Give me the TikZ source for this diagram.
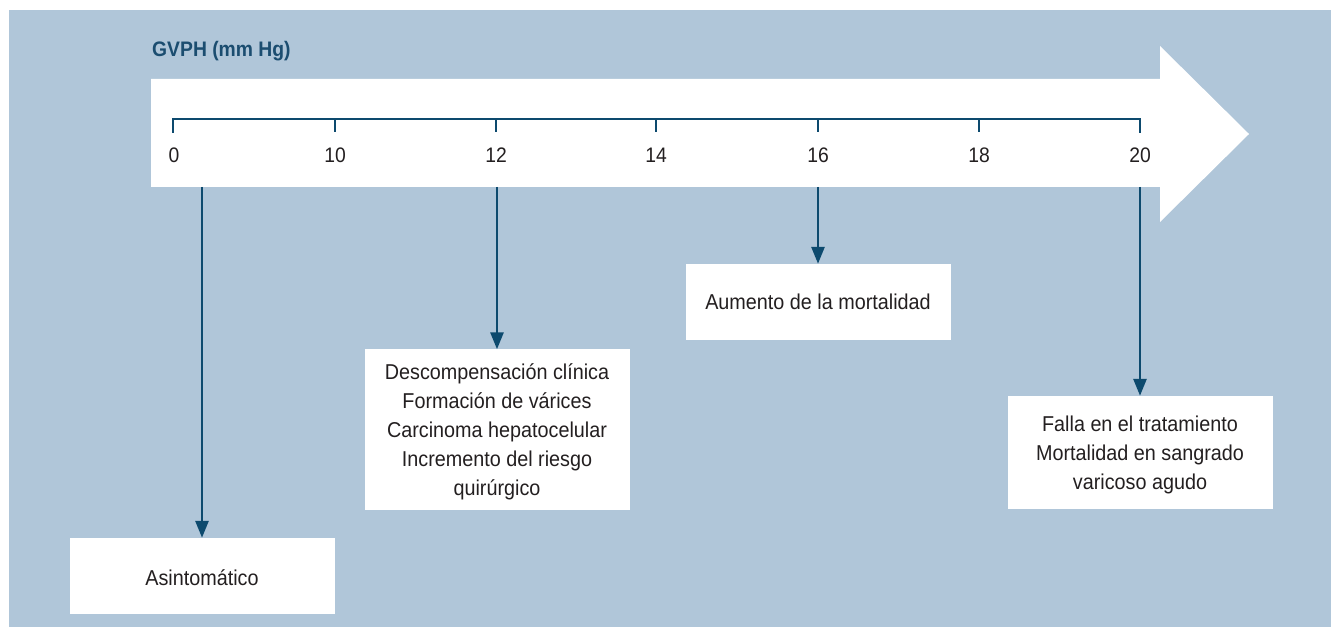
\documentclass[tikz,border=0pt]{standalone}
\usepackage{fontspec}
\setmainfont{Liberation Sans}[FakeStretch=0.92]
\usetikzlibrary{arrows.meta}
\definecolor{bgblue}{HTML}{B0C6D9}
\definecolor{darkline}{HTML}{0D4A6E}
\definecolor{titleblue}{HTML}{1B4D70}
\definecolor{txt}{HTML}{231F20}
\tikzset{
  box/.style={fill=white, draw=none, minimum width=265pt, inner sep=0pt},
  boxtext/.style={align=center, inner sep=0pt, text=txt, font=\fontsize{21.5}{29}\selectfont},
  ticklabel/.style={text=txt, font=\fontsize{21}{24}\selectfont, inner sep=0pt},
  conn/.style={draw=darkline, line width=2.8pt, -{Triangle[length=17pt,width=13pt]}},
  axisline/.style={draw=darkline, line width=2.7pt},
}
\begin{document}
\begin{tikzpicture}[x=1pt,y=-1pt]
\useasboundingbox (0,0) rectangle (1331,628);
\fill[white] (0,0) rectangle (1331,628);
\fill[bgblue] (9,10) rectangle (1331,627);
% big white arrow
\fill[white] (151,79) -- (1160,79) -- (1160,46) -- (1249,134) -- (1160,222) -- (1160,187) -- (151,187) -- cycle;
% title
\node[anchor=west, text=titleblue, font=\fontsize{21}{24}\selectfont\bfseries, inner sep=0pt] (title) at (152,51) {GVPH (mm Hg)};
% axis
\draw[axisline, line cap=rect] (173,132) -- (173,119) -- (1140,119) -- (1140,132);
\foreach \x in {335,496,656,818,979}{
  \draw[axisline] (\x,119) -- (\x,132);
}
\node[ticklabel] (t0) at (174,155) {0};
\node[ticklabel] (t10) at (335,155) {10};
\node[ticklabel] (t12) at (496,155) {12};
\node[ticklabel] (t14) at (656,155) {14};
\node[ticklabel] (t16) at (818,155) {16};
\node[ticklabel] (t18) at (979,155) {18};
\node[ticklabel] (t20) at (1140,155) {20};
% boxes
\node[box, minimum height=76pt] (asin) at (202,576) {};
\node[boxtext, yshift=-1.5pt] (asintxt) at (asin.center) {Asintomático};
\node[box, minimum height=160pt] (desc) at (497,429.5) {};
\node[boxtext, yshift=-2pt] (desctxt) at (desc.center) {Descompensación clínica\\Formación de várices\\Carcinoma hepatocelular\\Incremento del riesgo\\quirúrgico};
\node[box, minimum height=76pt] (aum) at (818,302) {};
\node[boxtext] (aumtxt) at (aum.center) {Aumento de la mortalidad};
\node[box, minimum height=113pt] (falla) at (1140,452.5) {};
\node[boxtext, yshift=-2pt] (fallatxt) at (falla.center) {Falla en el tratamiento\\Mortalidad en sangrado\\varicoso agudo};
% connector start points at the bottom of the arrow body
\coordinate (s0) at (202,187);
\coordinate (s12) at (497,187);
\coordinate (s16) at (818,187);
\coordinate (s20) at (1140,187);
\draw[conn] (s0) -- (asin.north);
\draw[conn] (s12) -- (desc.north);
\draw[conn] (s16) -- (aum.north);
\draw[conn] (s20) -- (falla.north);
\end{tikzpicture}
\end{document}
